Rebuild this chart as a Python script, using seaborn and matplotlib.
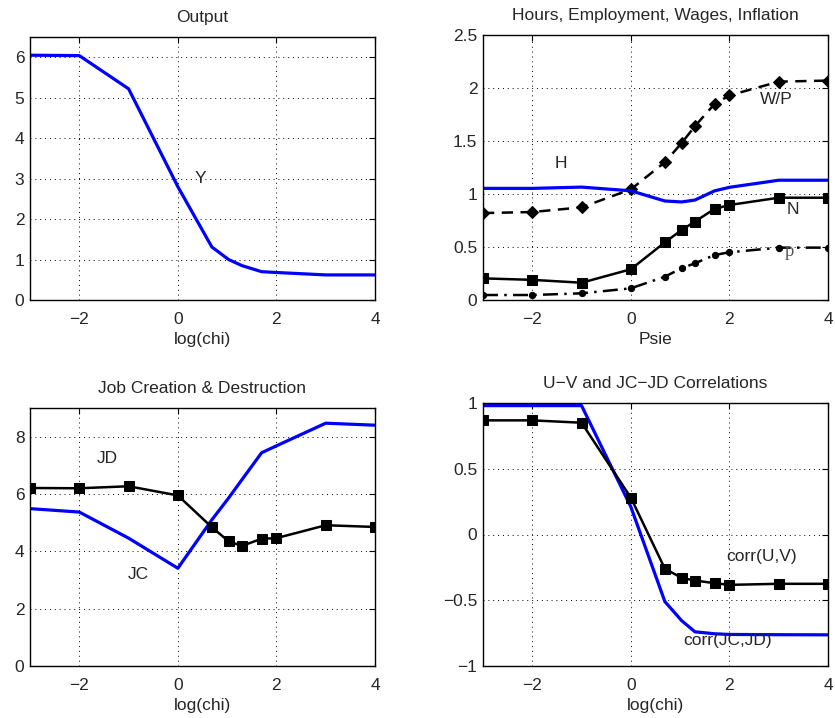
import numpy as np
import pandas as pd
import matplotlib
matplotlib.use('Agg')
import matplotlib.pyplot as plt
from matplotlib.ticker import FuncFormatter
import seaborn as sns

# grid of log(chi) values
logchi = [-3, -2, -1, 0, 0.69, 1.03, 1.3, 1.7, 2, 3, 4]

# output
Y = [6.05, 6.04, 5.22, 2.80, 1.31, 1.00, 0.85, 0.70, 0.68, 0.62, 0.62]

# hours, employment, wages, inflation
H = [1.053, 1.053, 1.065, 1.03, 0.934, 0.925, 0.943, 1.03, 1.063, 1.13, 1.13]
N = [0.204, 0.19, 0.163, 0.29, 0.544, 0.66, 0.74, 0.86, 0.896, 0.965, 0.965]
WP = [0.82, 0.83, 0.874, 1.044, 1.30, 1.48, 1.64, 1.85, 1.93, 2.06, 2.07]
P = [0.047, 0.047, 0.063, 0.11, 0.22, 0.30, 0.346, 0.425, 0.45, 0.494, 0.494]

# job creation / destruction
JD = [6.21, 6.20, 6.27, 5.95, 4.84, 4.35, 4.19, 4.44, 4.46, 4.91, 4.85]
JC = [5.49, 5.37, 4.46, 3.41, 5.10, 5.86, 6.50, 7.44, 7.68, 8.47, 8.40]

# correlations
corr_UV = [0.868, 0.868, 0.85, 0.28, -0.26, -0.33, -0.35, -0.37, -0.383, -0.375, -0.375]
corr_JCJD = [0.98, 0.98, 0.98, 0.21, -0.51, -0.655, -0.74, -0.755, -0.76, -0.762, -0.763]

df = pd.DataFrame({'x': logchi, 'Y': Y, 'H': H, 'N': N, 'WP': WP, 'P': P,
                   'JD': JD, 'JC': JC, 'UV': corr_UV, 'JCJD': corr_JCJD})

sns.set_style('white')
plt.rcParams['font.family'] = ['Liberation Sans', 'DejaVu Sans']
fs = 12.5
plt.rcParams['font.size'] = fs

W, Hpx = 835, 718
fig = plt.figure(figsize=(W / 100, Hpx / 100), dpi=100)


def box(l, t, r, b):
    return [l / W, 1 - b / Hpx, (r - l) / W, (b - t) / Hpx]


ax1 = fig.add_axes(box(30, 37, 375, 300))
ax2 = fig.add_axes(box(483, 35, 828, 300))
ax3 = fig.add_axes(box(30, 408, 375, 666))
ax4 = fig.add_axes(box(483, 403, 828, 666))

blue = '#0000ff'
bw = 2.3
kw = 1.8
tpad = 11

# Output
sns.lineplot(data=df, x='x', y='Y', ax=ax1, color=blue, lw=bw)
ax1.text(0.45, 3.0, 'Y', ha='center', va='center')
ax1.set_ylim(0, 6.5)
ax1.set_title('Output', fontsize=fs, pad=tpad)
ax1.set_xlabel('log(chi)')

# Hours etc
sns.lineplot(data=df, x='x', y='WP', ax=ax2, color='black', lw=kw, ls=(0, (4.5, 3)),
             marker='D', markersize=6, markeredgecolor='black')
sns.lineplot(data=df, x='x', y='H', ax=ax2, color=blue, lw=bw)
sns.lineplot(data=df, x='x', y='N', ax=ax2, color='black', lw=kw,
             marker='s', markersize=6.5, markeredgecolor='black')
sns.lineplot(data=df, x='x', y='P', ax=ax2, color='black', lw=kw, ls=(0, (6, 2.5, 1, 2.5)),
             marker='o', markersize=4.5, markeredgecolor='black')
ax2.text(-1.41, 1.29, 'H', ha='center', va='center')
ax2.text(2.95, 1.89, 'W/P', ha='center', va='center')
ax2.text(3.29, 0.855, 'N', ha='center', va='center')
ax2.text(3.22, 0.46, 'p', ha='center', va='center', color='#555555', fontsize=fs + 1,
         family=['Liberation Serif', 'DejaVu Serif'])
ax2.set_ylim(0, 2.5)
ax2.set_yticks([0, 0.5, 1, 1.5, 2, 2.5])
ax2.set_title('Hours, Employment, Wages, Inflation', fontsize=fs, pad=tpad)
ax2.set_xlabel('Psie')

# Job creation & destruction
sns.lineplot(data=df, x='x', y='JC', ax=ax3, color=blue, lw=bw)
sns.lineplot(data=df, x='x', y='JD', ax=ax3, color='black', lw=kw,
             marker='s', markersize=6.5, markeredgecolor='black')
ax3.text(-1.43, 7.23, 'JD', ha='center', va='center')
ax3.text(-0.80, 3.18, 'JC', ha='center', va='center')
ax3.set_ylim(0, 9)
ax3.set_yticks([0, 2, 4, 6, 8])
ax3.set_title('Job Creation & Destruction', fontsize=fs, pad=tpad)
ax3.set_xlabel('log(chi)')

# Correlations
sns.lineplot(data=df, x='x', y='JCJD', ax=ax4, color=blue, lw=bw)
sns.lineplot(data=df, x='x', y='UV', ax=ax4, color='black', lw=kw,
             marker='s', markersize=6.5, markeredgecolor='black')
ax4.text(1.94, -0.17, 'corr(U,V)', ha='left', va='center')
ax4.text(1.06, -0.806, 'corr(JC,JD)', ha='left', va='center')
ax4.set_ylim(-1, 1)
ax4.set_yticks([-1, -0.5, 0, 0.5, 1])
ax4.set_title('U\u2212V and JC\u2212JD Correlations', fontsize=fs, pad=tpad)
ax4.set_xlabel('log(chi)')

fmt = FuncFormatter(lambda v, pos: ('%g' % v).replace('-', '\u2212'))
for ax in [ax1, ax2, ax3, ax4]:
    ax.set_xlim(-3, 4)
    ax.set_xticks([-2, 0, 2, 4])
    ax.yaxis.set_major_formatter(fmt)
    ax.set_ylabel('')
    ax.grid(True, color='black', ls=(0, (1, 4)), lw=0.7)
    ax.tick_params(direction='in', length=4, top=True, right=True,
                   labelsize=fs, color='black')
    ax.tick_params(axis='x', pad=9)
    ax.tick_params(axis='y', pad=4)
    for s in ax.spines.values():
        s.set_color('black')
        s.set_linewidth(1.0)
        s.set_visible(True)
    ax.xaxis.label.set_size(fs)
    ax.xaxis.labelpad = 3

fig.savefig('out.png', dpi=100)
